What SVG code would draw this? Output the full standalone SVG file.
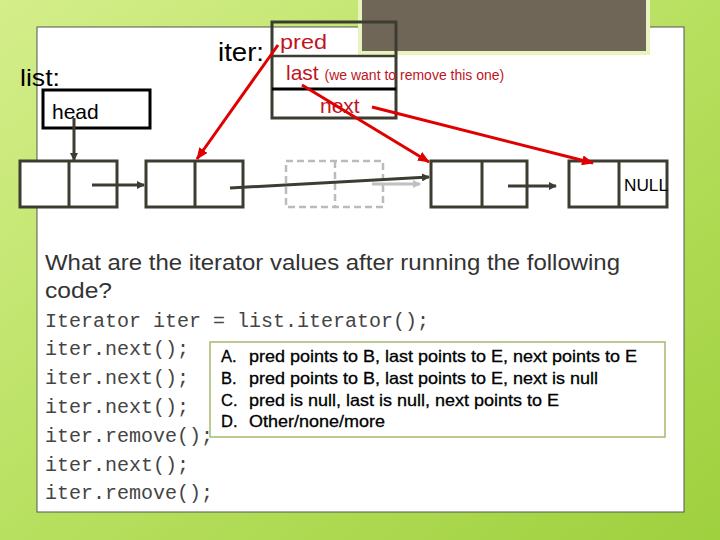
<svg xmlns="http://www.w3.org/2000/svg" width="720" height="540" viewBox="0 0 720 540">
<defs>
<linearGradient id="bg" x1="0" y1="0" x2="1" y2="1"><stop offset="0" stop-color="#d4ee8a"/><stop offset="0.5" stop-color="#b8e060"/><stop offset="1" stop-color="#9fd03e"/></linearGradient>
<marker id="ad" markerWidth="8" markerHeight="8" refX="7" refY="4" orient="auto" markerUnits="userSpaceOnUse"><path d="M0,0 L8,4 L0,8z" fill="#3c3c32"/></marker>
<marker id="ag" markerWidth="8" markerHeight="8" refX="7" refY="4" orient="auto" markerUnits="userSpaceOnUse"><path d="M0,0 L8,4 L0,8z" fill="#c0c0c0"/></marker>
<marker id="ar" markerWidth="12" markerHeight="10" refX="11" refY="5" orient="auto" markerUnits="userSpaceOnUse"><path d="M0,0 L12,5 L0,10z" fill="#e00000"/></marker>
<style>
.n{fill:#fff;stroke:#3c3c32;stroke-width:3}
.dn{fill:none;stroke:#bbb;stroke-width:2.5;stroke-dasharray:7,4}
.s{font-family:"Liberation Sans",Arial,sans-serif}
.m{font-family:"Liberation Mono","Courier New",monospace;font-size:20px;fill:#444}
.r{fill:#c0141e}
.c{stroke:#3c3c32;stroke-width:3;marker-end:url(#ad)}
.rc{stroke:#e00000;stroke-width:3;marker-end:url(#ar)}
</style>
</defs>
<rect width="720" height="540" fill="url(#bg)"/>
<rect x="37" y="27" width="647" height="485" fill="#fff" stroke="#555" stroke-width="1"/>
<rect x="360" y="-2" width="288" height="55" fill="#6f6658" stroke="#e8f4c0" stroke-width="4"/>
<g id="iter"><rect x="272" y="22" width="124" height="96" fill="none" stroke="#3c3c32" stroke-width="3"/><line x1="272" y1="56" x2="396" y2="56" stroke="#3c3c32" stroke-width="2.5"/><line x1="272" y1="89" x2="396" y2="89" stroke="#000" stroke-width="3"/>
<text class="s" x="218" y="61" font-size="26" textLength="46" lengthAdjust="spacingAndGlyphs">iter:</text>
<text class="s r" x="280" y="49" font-size="21" textLength="47" lengthAdjust="spacingAndGlyphs">pred</text>
<text class="s r" x="286" y="80" font-size="21">last <tspan font-size="14">(we want to remove this one)</tspan></text>
<text class="s r" x="320" y="113" font-size="21">next</text></g>
<text class="s" x="20" y="86" font-size="24" textLength="40" lengthAdjust="spacingAndGlyphs">list:</text>
<g id="head"><rect x="43" y="90" width="107" height="38" fill="#fff" stroke="#000" stroke-width="3"/><text class="s" x="52" y="119" font-size="21">head</text></g>
<g id="n1"><rect class="n" x="20" y="161" width="97" height="46"/><line class="n" x1="69" y1="161" x2="69" y2="207"/></g>
<g id="n2"><rect class="n" x="146" y="161" width="97" height="46"/><line class="n" x1="195" y1="161" x2="195" y2="207"/></g>
<g id="n3"><rect class="dn" x="286" y="161" width="97" height="46"/><line class="dn" x1="335" y1="161" x2="335" y2="207"/></g>
<g id="n4"><rect class="n" x="431" y="161" width="96" height="46"/><line class="n" x1="482" y1="161" x2="482" y2="207"/></g>
<g id="n5"><rect class="n" x="569" y="161" width="98" height="46"/><line class="n" x1="619" y1="161" x2="619" y2="207"/><text class="s" x="624" y="191" font-size="16" textLength="44" lengthAdjust="spacingAndGlyphs">NULL</text></g>
<g id="connectors">
<line class="c" x1="74" y1="118" x2="74" y2="160"/>
<line class="c" x1="92" y1="185" x2="144" y2="185"/>
<line x1="372" y1="184" x2="420" y2="184" stroke="#c0c0c0" stroke-width="3" marker-end="url(#ag)"/>
<line class="c" x1="230" y1="188" x2="429" y2="177"/>
<line class="c" x1="508" y1="186" x2="556" y2="186"/>
<line class="rc" x1="278" y1="45" x2="197" y2="159"/>
<line class="rc" x1="302" y1="85" x2="429" y2="162"/>
<line class="rc" x1="372" y1="107" x2="593" y2="163"/>
</g>
<text class="s" x="45" y="270" font-size="22" fill="#333" textLength="575" lengthAdjust="spacingAndGlyphs">What are the iterator values after running the following</text>
<text class="s" x="45" y="298" font-size="22" fill="#333" textLength="67" lengthAdjust="spacingAndGlyphs">code?</text>
<text class="m" x="45" y="327">Iterator iter = list.iterator();</text>
<text class="m" x="45" y="355">iter.next();</text>
<text class="m" x="45" y="384">iter.next();</text>
<text class="m" x="45" y="413">iter.next();</text>
<text class="m" x="45" y="442">iter.remove();</text>
<text class="m" x="45" y="471">iter.next();</text>
<text class="m" x="45" y="499">iter.remove();</text>
<g id="answers"><rect x="210" y="342" width="455" height="95" fill="#fff" stroke="#a8b870" stroke-width="1.5"/>
<g class="s" font-size="16.5" fill="#000" stroke="#000" stroke-width="0.3">
<text x="221" y="362">A.</text><text x="249" y="362" textLength="388" lengthAdjust="spacingAndGlyphs">pred points to B, last points to E, next points to E</text>
<text x="221" y="384">B.</text><text x="249" y="384" textLength="349" lengthAdjust="spacingAndGlyphs">pred points to B, last points to E, next is null</text>
<text x="221" y="406">C.</text><text x="249" y="406" textLength="310" lengthAdjust="spacingAndGlyphs">pred is null, last is null, next points to E</text>
<text x="221" y="427">D.</text><text x="249" y="427" textLength="136" lengthAdjust="spacingAndGlyphs">Other/none/more</text></g></g>
</svg>
